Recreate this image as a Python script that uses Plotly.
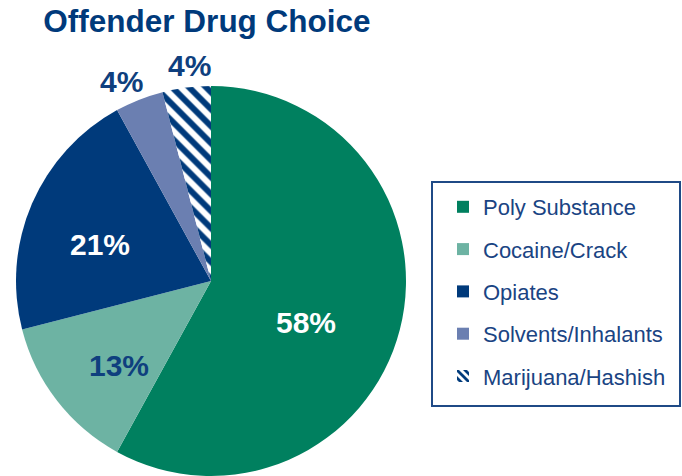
import math
import plotly.graph_objects as go

# Drug-choice shares (percent of offenders)
categories = ["Poly Substance", "Cocaine/Crack", "Opiates", "Solvents/Inhalants", "Marijuana/Hashish"]
shares = [58, 13, 21, 4, 4]
slice_colors = ["#00805f", "#6db3a3", "#003a7b", "#6b7fb1", "#003a7b"]
slice_patterns = ["", "", "", "", "\\"]
label_colors = ["#ffffff", "#0f3f7e", "#ffffff", "#0f3f7e", "#0f3f7e"]

# label placement: radial fraction of the pie radius and an angular nudge (deg)
label_radius = [0.53, 0.64, 0.60, 1.12, 1.11]
label_turn = [9.0, -5.0, -5.0, -2.5, 1.4]

W, H = 682, 476
NAVY = "#003a7b"
FONT = "Liberation Sans, Arial, sans-serif"

# pie geometry in pixels
cx, cy, R = 211, 281, 195

fig = go.Figure()

fig.add_trace(go.Pie(
    labels=categories,
    values=shares,
    sort=False,
    direction="clockwise",
    rotation=0,
    textinfo="none",
    hoverinfo="label+percent",
    showlegend=False,
    marker=dict(
        colors=slice_colors,
        line=dict(width=0),
        pattern=dict(shape=slice_patterns, fgcolor=NAVY, bgcolor="#ffffff",
                     size=12, solidity=0.5, fillmode="replace"),
    ),
    domain=dict(x=[(cx - R) / W, (cx + R) / W], y=[0, 2 * R / H]),
))

# legend entries (one group each so they can be spaced apart)
for name, col, pat in zip(categories, slice_colors, slice_patterns):
    fig.add_trace(go.Bar(
        x=[None], y=[None], name=name, legendgroup=name,
        marker=dict(color=col, line=dict(width=0),
                    pattern=dict(shape=pat, fgcolor=NAVY, bgcolor="#ffffff",
                                 size=7, solidity=0.5, fillmode="replace")),
        hoverinfo="skip",
    ))

# percentage labels placed from each slice's angular position
total = sum(shares)
start = 0.0
annotations = []
for v, col, rf, turn in zip(shares, label_colors, label_radius, label_turn):
    mid = 360.0 * (start + v / 2.0) / total + turn
    start += v
    th = math.radians(mid)
    px = cx + rf * R * math.sin(th)
    py = cy - rf * R * math.cos(th)
    annotations.append(dict(
        x=px / W, y=1 - py / H, xref="paper", yref="paper",
        text=f"{round(100 * v / total)}%", showarrow=False,
        xanchor="center", yanchor="middle",
        font=dict(family=FONT, size=30, color=col, weight="bold"),
    ))

fig.update_layout(
    width=W, height=H,
    margin=dict(l=0, r=0, t=0, b=0),
    paper_bgcolor="#ffffff",
    plot_bgcolor="rgba(0,0,0,0)",
    title=dict(
        text="Offender Drug Choice",
        x=207 / W, xanchor="center", xref="paper",
        y=1 - 21 / H, yanchor="middle", yref="paper",
        font=dict(family=FONT, size=31.5, color=NAVY, weight="bold"),
    ),
    xaxis=dict(visible=False, domain=[0.99, 1.0]),
    yaxis=dict(visible=False, domain=[0.99, 1.0]),
    legend=dict(
        x=443 / W, xanchor="left",
        y=1 - 186 / H, yanchor="top",
        font=dict(family=FONT, size=22, color="#1a4483"),
        tracegroupgap=10.7,
        itemwidth=30,
        bgcolor="rgba(0,0,0,0)",
        borderwidth=0,
    ),
    annotations=annotations,
    shapes=[dict(
        type="rect", xref="paper", yref="paper",
        x0=432 / W, x1=680 / W, y0=1 - 406 / H, y1=1 - 182 / H,
        line=dict(color="#1f4a86", width=2), fillcolor="rgba(0,0,0,0)",
    )],
)

fig.write_html("out.html")
